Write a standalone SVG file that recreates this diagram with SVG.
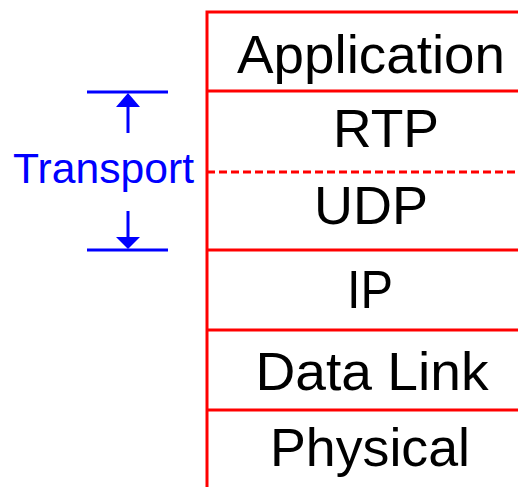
<svg xmlns="http://www.w3.org/2000/svg" width="518" height="487" viewBox="0 0 518 487">
<style>
.red{stroke:#ff0000;stroke-width:3;fill:none}
.blue{stroke:#0000ff;stroke-width:3;fill:none}
.lbl{font-family:"Liberation Sans",Arial,sans-serif;font-size:53px;fill:#000;text-anchor:middle}
.tr{font-family:"Liberation Sans",Arial,sans-serif;font-size:42px;fill:#0000ff;text-anchor:middle}
</style>
<g id="stack">
<path class="red" d="M207,487 V12 H518"/>
</g>
<g id="connectors">
<line class="red" x1="207" y1="91" x2="518" y2="91"/>
<line class="red" x1="207" y1="172" x2="518" y2="172" stroke-dasharray="8,4"/>
<line class="red" x1="207" y1="250" x2="518" y2="250"/>
<line class="red" x1="207" y1="330" x2="518" y2="330"/>
<line class="red" x1="207" y1="410" x2="518" y2="410"/>
</g>
<g id="application"><text class="lbl" x="371" y="73" textLength="268" lengthAdjust="spacingAndGlyphs">Application</text></g>
<g id="rtp"><text class="lbl" x="386" y="147" textLength="106" lengthAdjust="spacingAndGlyphs">RTP</text></g>
<g id="udp"><text class="lbl" x="371" y="224" textLength="114" lengthAdjust="spacingAndGlyphs">UDP</text></g>
<g id="ip"><text class="lbl" x="370" y="308" textLength="46" lengthAdjust="spacingAndGlyphs">IP</text></g>
<g id="datalink"><text class="lbl" x="372" y="390" textLength="233" lengthAdjust="spacingAndGlyphs">Data Link</text></g>
<g id="physical"><text class="lbl" x="370" y="466" textLength="200" lengthAdjust="spacingAndGlyphs">Physical</text></g>
<g id="transport">
<line class="blue" x1="87" y1="92" x2="168" y2="92"/>
<line class="blue" x1="128" y1="106" x2="128" y2="133"/>
<polygon fill="#0000ff" points="128,93 116,107 140,107"/>
<line class="blue" x1="87" y1="250" x2="168" y2="250"/>
<line class="blue" x1="128" y1="211" x2="128" y2="238"/>
<polygon fill="#0000ff" points="128,249 116,237 140,237"/>
<text class="tr" x="103.5" y="183" textLength="181" lengthAdjust="spacingAndGlyphs">Transport</text>
</g>
</svg>
